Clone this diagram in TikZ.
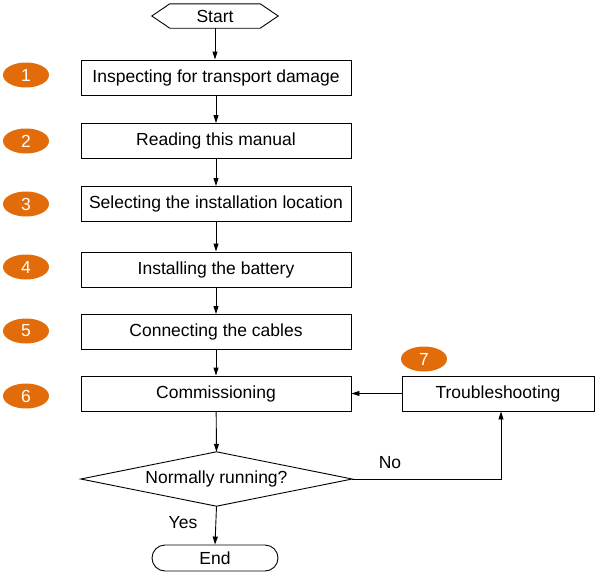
\documentclass[tikz,border=0pt]{standalone}
\usepackage{fontspec}
\setmainfont{Liberation Sans}
\usetikzlibrary{arrows.meta,calc,shapes.geometric}
\definecolor{numorange}{HTML}{E36C0A}
\begin{document}
\begin{tikzpicture}[x=1pt,y=-1pt,
  font=\fontsize{17.5}{20}\selectfont,
  stepbox/.style={draw, line width=0.9pt, minimum width=270pt, minimum height=35pt, inner sep=0pt},
  numtag/.style={ellipse, fill=numorange, text=white, minimum width=46pt, minimum height=25pt, inner sep=0pt},
  conn/.style={line width=0.9pt, -{Triangle[length=8pt,width=5pt]}},
  plain/.style={line width=0.9pt}]
\useasboundingbox (0,0) rectangle (595,573);
% start
\node (start) [minimum width=126pt, minimum height=24pt, inner sep=0pt] at (215,16) {Start};
\draw[plain] (start.west) -- ($(start.north west)+(18,0)$) -- ($(start.north east)+(-18,0)$) -- (start.east) -- ($(start.south east)+(-18,0)$) -- ($(start.south west)+(18,0)$) -- cycle;
% steps
\node (s1) [stepbox] at (216,77.5) {Inspecting for transport damage};
\node (s2) [stepbox] at (216,141) {Reading this manual};
\node (s3) [stepbox] at (216,204) {Selecting the installation location};
\node (s4) [stepbox] at (216,269.5) {Installing the battery};
\node (s5) [stepbox] at (216,332) {Connecting the cables};
\node (s6) [stepbox] at (216,393.5) {Commissioning};
\node (tr) [draw, line width=0.9pt, minimum width=192pt, minimum height=35pt, inner sep=0pt] at (498,393.5) {Troubleshooting};
% decision
\node (dec) [minimum width=271pt, minimum height=54pt, inner sep=0pt] at (216.5,479) {Normally running?};
\draw[plain] (dec.west) -- (dec.north) -- (dec.east) -- (dec.south) -- cycle;
% end
\node (end) [draw, line width=0.9pt, rounded corners=13pt, minimum width=126pt, minimum height=26pt, inner sep=0pt] at (215,558) {End};
% number tags
\node (n1) [numtag] at (26,75) {1};
\node (n2) [numtag] at (26,141) {2};
\node (n3) [numtag] at (26,204) {3};
\node (n4) [numtag] at (26,267) {4};
\node (n5) [numtag] at (26,331) {5};
\node (n6) [numtag] at (26,396) {6};
\node (n7) [numtag] at (424,359) {7};
% connectors
\draw[conn] (start.south) -- (start.south |- s1.north);
\draw[conn] (s1) -- (s2);
\draw[conn] (s2) -- (s3);
\draw[conn] (s3) -- (s4);
\draw[conn] (s4) -- (s5);
\draw[conn] (s5) -- (s6);
\draw[conn] (s6) -- (dec.north);
\draw[conn] (dec.south) -- (end.north);
\coordinate (corner) at (501,479);
\draw[conn] (dec.east) -- (corner) -- (corner |- tr.south);
\draw[conn] (tr.west) -- (s6.east);
% labels
\node (no) at (390,463) {No};
\node (yes) at (183,523) {Yes};
\end{tikzpicture}
\end{document}
